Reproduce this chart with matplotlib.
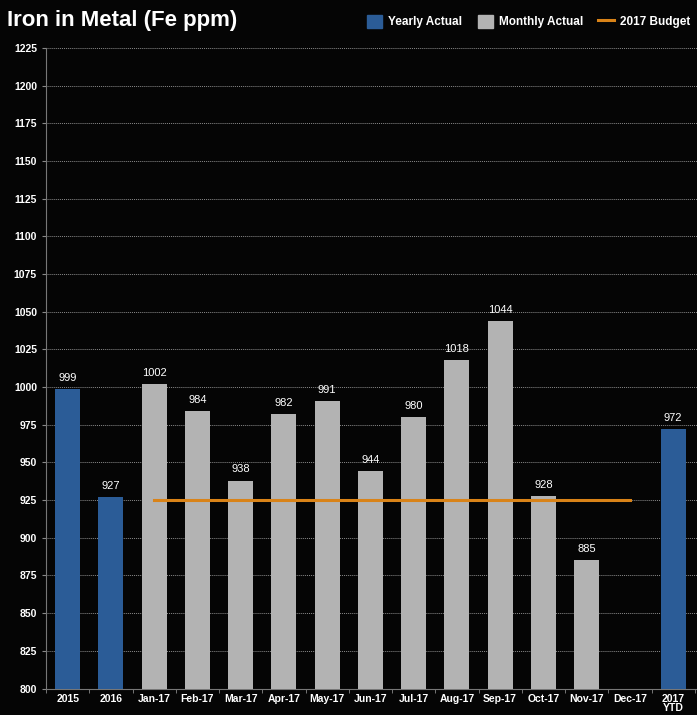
import matplotlib
matplotlib.use("Agg")
import matplotlib.pyplot as plt
import numpy as np
from matplotlib.patches import Patch
from matplotlib.lines import Line2D

plt.rcParams['font.family'] = ['Liberation Sans Narrow', 'Liberation Sans', 'DejaVu Sans']

categories = ['2015', '2016', 'Jan-17', 'Feb-17', 'Mar-17', 'Apr-17', 'May-17', 'Jun-17',
              'Jul-17', 'Aug-17', 'Sep-17', 'Oct-17', 'Nov-17', 'Dec-17', '2017\nYTD']
yearly = {0: 999, 1: 927, 14: 972}
monthly = [1002, 984, 938, 982, 991, 944, 980, 1018, 1044, 928, 885]
budget = 925

blue = '#2b5c97'
grey = '#b3b3b3'
orange = '#d98318'

fig = plt.figure(figsize=(6.97, 7.15), dpi=100)
fig.patch.set_facecolor('#050505')
ax = fig.add_axes([0.066, 0.037, 0.934, 0.896])
ax.set_facecolor('#050505')

x = np.arange(len(categories))
w = 0.58

yx = list(yearly.keys())
yv = list(yearly.values())
ax.bar(yx, yv, width=w, color=blue, zorder=3)
mx = x[2:2 + len(monthly)]
ax.bar(mx, monthly, width=w, color=grey, zorder=3)

for xi, v in zip(yx, yv):
    ax.text(xi, v + 4, str(v), ha='center', va='bottom', color='white', fontsize=8, zorder=4)
for xi, v in zip(mx, monthly):
    ax.text(xi, v + 4, str(v), ha='center', va='bottom', color='white', fontsize=8, zorder=4)

ax.plot([x[2], x[13]], [budget, budget], color=orange, lw=2.2, zorder=5)

ax.set_ylim(800, 1225)
ax.set_xlim(-0.5, len(categories) - 0.45)
ax.set_yticks(np.arange(800, 1226, 25))
ax.set_xticks(x)
ax.set_xticklabels(categories, linespacing=0.85)
ax.set_xticks(np.arange(-0.5, len(categories), 1), minor=True)
ax.tick_params(axis='x', which='major', length=0, colors='white', labelsize=7.5, pad=4)
ax.tick_params(axis='x', which='minor', length=3, color='#888888')
ax.tick_params(axis='y', length=3, color='#888888', labelcolor='white', labelsize=7.5)
for lab in ax.get_xticklabels() + ax.get_yticklabels():
    lab.set_fontweight('bold')

ax.grid(axis='y', color='#8a8a8a', linestyle=(0, (1, 1)), lw=0.7, zorder=0)
for s in ['top', 'right']:
    ax.spines[s].set_visible(False)
ax.spines['left'].set_color('#777777')
ax.spines['bottom'].set_color('#777777')

fig.text(0.01, 0.972, 'Iron in Metal (Fe ppm)', color='white', fontsize=16,
         fontweight='bold', va='center', ha='left')

handles = [Patch(color=blue), Patch(color=grey), Line2D([], [], color=orange, lw=2.2)]
labels = ['Yearly Actual', 'Monthly Actual', '2017 Budget']
leg = fig.legend(handles, labels, loc='center right', bbox_to_anchor=(1.0, 0.970), ncol=3,
                 frameon=False, fontsize=8.5, handlelength=1.3, handleheight=1.3,
                 columnspacing=1.3, handletextpad=0.5, borderaxespad=0.2)
for t in leg.get_texts():
    t.set_color('white')
    t.set_fontweight('bold')

fig.savefig('out.png', dpi=100, facecolor=fig.get_facecolor())
